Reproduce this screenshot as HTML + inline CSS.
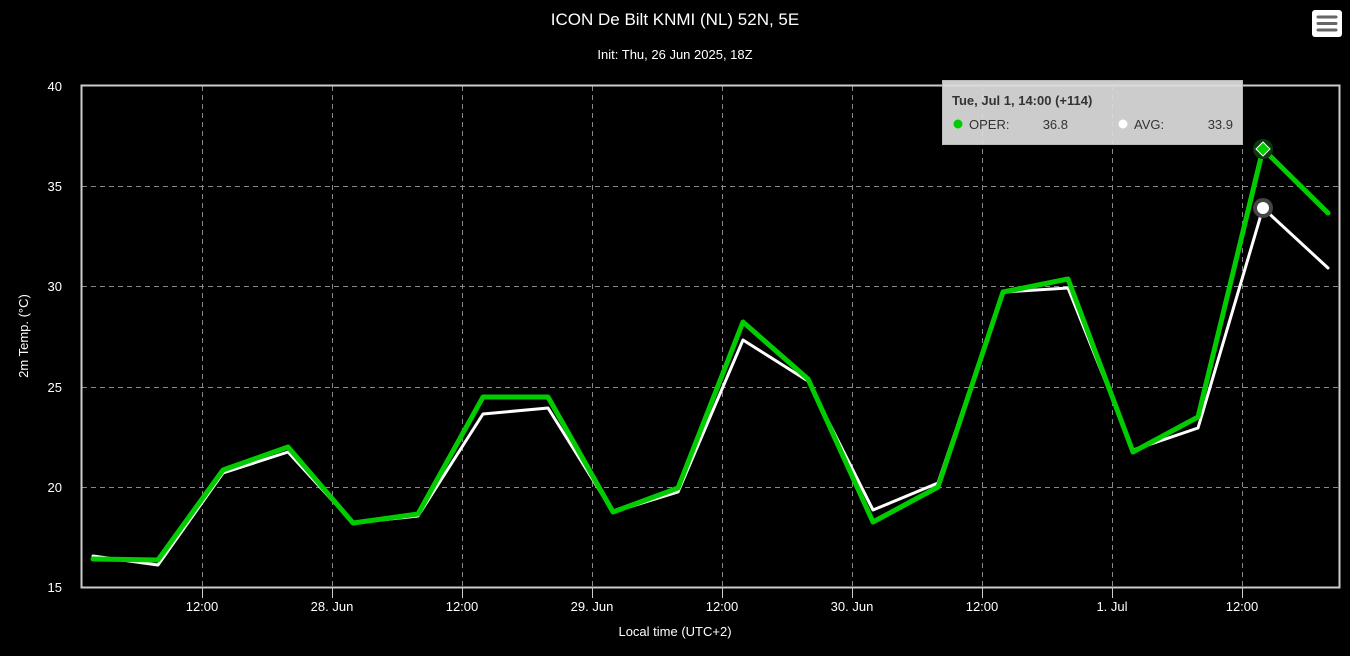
<!DOCTYPE html>
<html><head><meta charset="utf-8"><style>
html,body{margin:0;padding:0;background:#000;}
svg{display:block;font-family:"Liberation Sans","DejaVu Sans",sans-serif;}
</style></head><body>
<svg width="1350" height="656" viewBox="0 0 1350 656" xmlns="http://www.w3.org/2000/svg">
<rect width="1350" height="656" fill="#000"/>
<text x="675" y="25" fill="#fff" font-size="17" text-anchor="middle">ICON De Bilt KNMI (NL) 52N, 5E</text>
<text x="675" y="59" fill="#fff" font-size="13" text-anchor="middle">Init: Thu, 26 Jun 2025, 18Z</text>
<rect x="1312" y="10" width="30" height="27" rx="3" fill="#fff"/>
<g stroke="#666" stroke-width="3" stroke-linecap="round"><line x1="1318" y1="17" x2="1336" y2="17"/><line x1="1318" y1="23.5" x2="1336" y2="23.5"/><line x1="1318" y1="30" x2="1336" y2="30"/></g>
<g stroke="#888" stroke-width="1" stroke-dasharray="5,4">
<line x1="82" y1="186.5" x2="1339" y2="186.5"/><line x1="82" y1="286.5" x2="1339" y2="286.5"/><line x1="82" y1="387.5" x2="1339" y2="387.5"/><line x1="82" y1="487.5" x2="1339" y2="487.5"/>
<line x1="202.5" y1="86" x2="202.5" y2="587"/><line x1="332.5" y1="86" x2="332.5" y2="587"/><line x1="462.5" y1="86" x2="462.5" y2="587"/><line x1="592.5" y1="86" x2="592.5" y2="587"/><line x1="722.5" y1="86" x2="722.5" y2="587"/><line x1="852.5" y1="86" x2="852.5" y2="587"/><line x1="982.5" y1="86" x2="982.5" y2="587"/><line x1="1112.5" y1="86" x2="1112.5" y2="587"/><line x1="1242.5" y1="86" x2="1242.5" y2="587"/>
</g>
<rect x="81.5" y="85.5" width="1258" height="502" fill="none" stroke="#ccc" stroke-width="2"/>
<g stroke="#ccc" stroke-width="1">
<line x1="202.5" y1="588" x2="202.5" y2="598"/><line x1="332.5" y1="588" x2="332.5" y2="598"/><line x1="462.5" y1="588" x2="462.5" y2="598"/><line x1="592.5" y1="588" x2="592.5" y2="598"/><line x1="722.5" y1="588" x2="722.5" y2="598"/><line x1="852.5" y1="588" x2="852.5" y2="598"/><line x1="982.5" y1="588" x2="982.5" y2="598"/><line x1="1112.5" y1="588" x2="1112.5" y2="598"/><line x1="1242.5" y1="588" x2="1242.5" y2="598"/>
</g>
<g fill="#fff" font-size="13" text-anchor="end">
<text x="62" y="91">40</text><text x="62" y="191">35</text><text x="62" y="291">30</text><text x="62" y="392">25</text><text x="62" y="492">20</text><text x="62" y="592">15</text>
</g>
<g fill="#fff" font-size="13" text-anchor="middle">
<text x="202" y="611">12:00</text><text x="332" y="611">28. Jun</text><text x="462" y="611">12:00</text><text x="592" y="611">29. Jun</text><text x="722" y="611">12:00</text><text x="852" y="611">30. Jun</text><text x="982" y="611">12:00</text><text x="1112" y="611">1. Jul</text><text x="1242" y="611">12:00</text>
<text x="675" y="636">Local time (UTC+2)</text>
</g>
<text transform="translate(28,336) rotate(-90)" fill="#fff" font-size="13" text-anchor="middle">2m Temp. (°C)</text>
<polyline fill="none" stroke="#fff" stroke-width="3" stroke-linejoin="round" stroke-linecap="round" points="93,556 158,565 223,473 288,452 353,523 418,516 483,414 548,408 613,512 678,492 743,340 808,381 873,510 938,483 1003,292 1068,288 1133,450 1198,428 1263,208 1328,268"/>
<polyline fill="none" stroke="#00cc00" stroke-width="5" stroke-linejoin="round" stroke-linecap="round" points="93,559 158,560 223,470 288,447 353,523 418,514 483,397 548,397 613,512 678,488 743,322 808,379 873,522 938,487 1003,292 1068,279 1133,452 1198,417 1263,149 1328,213"/>
<circle cx="1263" cy="208" r="10" fill="#444"/>
<circle cx="1263" cy="208" r="6" fill="#fff"/>
<circle cx="1263" cy="149" r="10" fill="#0a3a0a"/>
<path d="M1263,142 L1270,149 L1263,156 L1256,149 Z" fill="#00cc00" stroke="#fff" stroke-width="1"/>
<rect x="942.5" y="80.5" width="300" height="64" fill="rgba(220,220,220,0.93)" stroke="#bbb" stroke-width="1"/>
<text x="952" y="105" fill="#333" font-size="13" font-weight="bold">Tue, Jul 1, 14:00 (+114)</text>
<circle cx="958" cy="124" r="4.5" fill="#00cc00"/>
<text x="969" y="129" fill="#333" font-size="13">OPER:</text>
<text x="1068" y="129" fill="#333" font-size="13" text-anchor="end">36.8</text>
<circle cx="1123" cy="124" r="4.5" fill="#fff"/>
<text x="1134" y="129" fill="#333" font-size="13">AVG:</text>
<text x="1233" y="129" fill="#333" font-size="13" text-anchor="end">33.9</text>
</svg>
</body></html>
